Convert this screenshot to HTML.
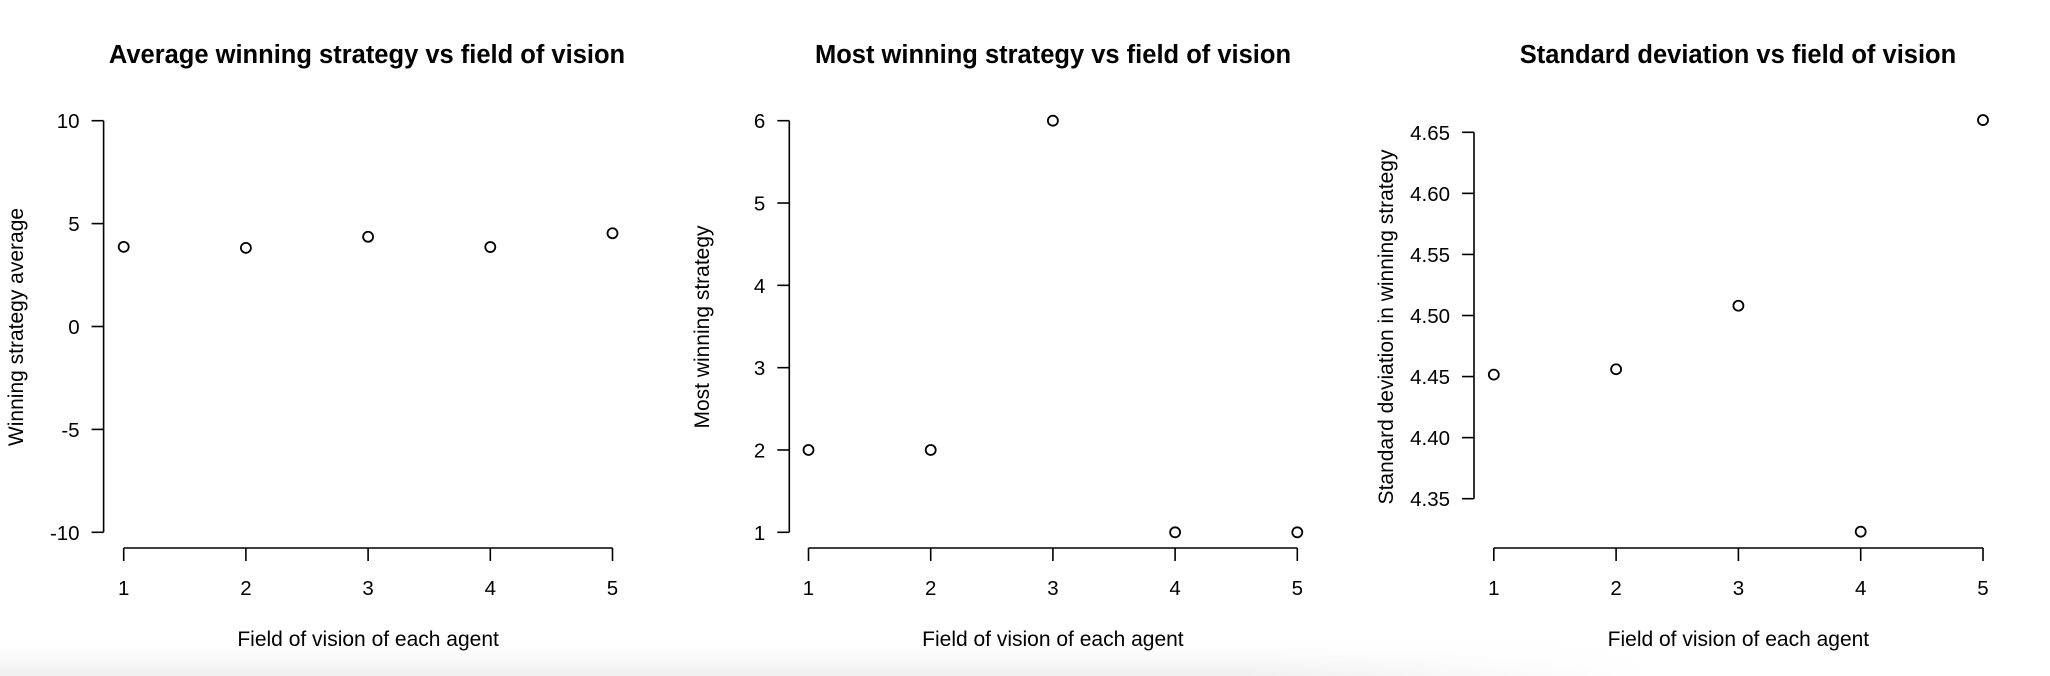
<!DOCTYPE html>
<html><head><meta charset="utf-8"><style>
html,body{margin:0;padding:0;background:#fff;}
svg{display:block;font-family:"Liberation Sans",Arial,sans-serif;}
</style></head><body>
<svg id="chart" width="2050" height="676" viewBox="0 0 2050 676" xmlns="http://www.w3.org/2000/svg">
<defs>
<linearGradient id="gv" x1="0" y1="0" x2="0" y2="1"><stop offset="0" stop-color="#fff" stop-opacity="0"/><stop offset="1" stop-color="#efefef"/></linearGradient>
<linearGradient id="gh" x1="0" y1="0" x2="1" y2="0"><stop offset="0" stop-color="#fff" stop-opacity="0"/><stop offset="0.75" stop-color="#fff" stop-opacity="0"/><stop offset="1" stop-color="#fff"/></linearGradient>
</defs>
<rect x="0" y="630" width="1650" height="46" fill="url(#gv)"/>
<rect x="0" y="630" width="1650" height="46" fill="url(#gh)"/>
</svg>
<script>
const categories = [1, 2, 3, 4, 5];
const avgValues = [3.87, 3.82, 4.36, 3.86, 4.53];
const mostValues = [2, 2, 6, 1, 1];
const sdValues = [4.4516, 4.456, 4.508, 4.323, 4.66];
const avgTicks = [-10, -5, 0, 5, 10];
const mostTicks = [1, 2, 3, 4, 5, 6];
const sdTicks = ["4.35", "4.40", "4.45", "4.50", "4.55", "4.60", "4.65"];

const NS = "http://www.w3.org/2000/svg";
const svg = document.getElementById('chart');
function mk(tag, attrs, parent){
  const e = document.createElementNS(NS, tag);
  for (const k in attrs) e.setAttribute(k, attrs[k]);
  (parent||svg).appendChild(e);
  return e;
}
const panels = [
  {id:'avg', title:'Average winning strategy vs field of vision', ylab:'Winning strategy average',
   vals:avgValues, ticks:avgTicks, ymin:-10, ymax:10, yTop:120.7, yBot:532.3,
   axX:103.6, x1:123.7, x5:612.5, titleX:367, ylabX:16},
  {id:'most', title:'Most winning strategy vs field of vision', ylab:'Most winning strategy',
   vals:mostValues, ticks:mostTicks, ymin:1, ymax:6, yTop:120.7, yBot:532.3,
   axX:789.3, x1:808.5, x5:1297.3, titleX:1053, ylabX:702},
  {id:'sd', title:'Standard deviation vs field of vision', ylab:'Standard deviation in winning strategy',
   vals:sdValues, ticks:sdTicks, ymin:4.35, ymax:4.65, yTop:132.3, yBot:498.7,
   axX:1474, x1:1493.8, x5:1983, titleX:1738, ylabX:1386}
];
panels.forEach(p=>{
  const g = mk('g', {});
  
  
  const xs = v => p.x1 + (v - categories[0]) * (p.x5 - p.x1) / (categories[categories.length-1] - categories[0]);
  const ys = v => p.yBot - (v - p.ymin) * (p.yBot - p.yTop) / (p.ymax - p.ymin);
  const t = mk('text', {x:p.titleX, y:63, 'text-anchor':'middle', 'font-size':25.5, 'font-weight':'bold', fill:'#000'}, g);
  t.textContent = p.title;
  
  
  const ya = mk('g', {}, g);
  
  
  const tv = p.ticks.map(Number);
  mk('line', {x1:p.axX, x2:p.axX, y1:ys(tv[0]), y2:ys(tv[tv.length-1]), stroke:'#000', 'stroke-width':1.6}, ya);
  p.ticks.forEach(tk=>{
    const y = ys(Number(tk));
    mk('line', {x1:p.axX-12, x2:p.axX, y1:y, y2:y, stroke:'#000', 'stroke-width':1.6}, ya);
    const l = mk('text', {x:p.axX-24, y:y+7.5, 'text-anchor':'end', 'font-size':20.5, fill:'#000'}, ya);
    l.textContent = String(tk);
    
    
  });
  const xa = mk('g', {}, g);
  
  
  mk('line', {x1:xs(categories[0]), x2:xs(categories[categories.length-1]), y1:548, y2:548, stroke:'#000', 'stroke-width':1.6}, xa);
  categories.forEach(c=>{
    const x = xs(c);
    mk('line', {x1:x, x2:x, y1:548, y2:561, stroke:'#000', 'stroke-width':1.6}, xa);
    const l = mk('text', {x:x, y:595, 'text-anchor':'middle', 'font-size':20.5, fill:'#000'}, xa);
    l.textContent = String(c);
    
    
  });
  const xl = mk('text', {x:(p.x1+p.x5)/2, y:646, 'text-anchor':'middle', 'font-size':21, fill:'#000'}, g);
  xl.textContent = 'Field of vision of each agent';
  
  
  const yl = mk('text', {x:0, y:0, 'text-anchor':'middle', 'font-size':21, fill:'#000',
    transform:`translate(${p.ylabX+7},327) rotate(-90)`}, g);
  yl.textContent = p.ylab;
  
  
  p.vals.forEach((v,i)=>{
    const c = mk('circle', {cx:xs(categories[i]), cy:ys(v), r:5, fill:'none', stroke:'#000', 'stroke-width':1.8}, g);
    
    
  });
});
</script>
</body></html>
